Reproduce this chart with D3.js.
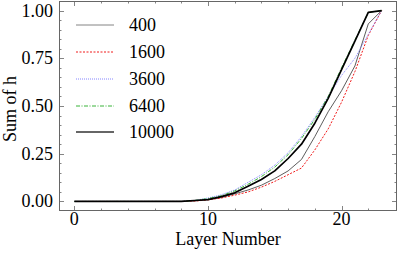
<!DOCTYPE html>
<html><head><meta charset="utf-8">
<script src="https://cdn.jsdelivr.net/npm/d3@7"></script>
<style>body{margin:0;background:#fff}svg{display:block}text{font-family:"Liberation Serif","Times New Roman",serif}</style>
</head><body><svg id="c" width="399" height="254"></svg>
<script>
const layers = d3.range(0, 24);
const seriesNames = ["400", "1600", "3600", "6400", "10000"];
const s400   = [0,0,0,0,0,0,0,0,0,0.003,0.01,0.02,0.04,0.06,0.085,0.12,0.16,0.22,0.34,0.47,0.58,0.71,0.93,1.0];
const s1600  = [0,0,0,0,0,0,0,0,0,0.002,0.008,0.018,0.033,0.05,0.075,0.105,0.14,0.175,0.27,0.38,0.52,0.68,0.87,1.0];
const s3600  = [0,0,0,0,0,0,0,0,0,0.005,0.018,0.035,0.06,0.1,0.14,0.19,0.255,0.34,0.44,0.55,0.66,0.75,0.875,1.0];
const s6400  = [0,0,0,0,0,0,0,0,0,0.005,0.015,0.03,0.055,0.09,0.13,0.18,0.245,0.33,0.43,0.55,0.70,0.845,0.99,1.0];
const s10000 = [0,0,0,0,0,0,0,0,0,0.005,0.01,0.025,0.045,0.08,0.115,0.16,0.225,0.30,0.41,0.54,0.69,0.84,0.99,1.0];
const xTicks = [0, 10, 20];
const yTicks = [0, 0.25, 0.5, 0.75, 1.0];
const xMinor = [2,4,6,8,12,14,16,18,22];
const yMinor = d3.range(0, 21).map(i => i*0.05).filter(v => Math.abs(v*4 - Math.round(v*4)) > 1e-6);

const allSeries = [s400, s1600, s3600, s6400, s10000];
const styles = [
  {c:"#333", w:0.8, d:null},
  {c:"#e00", w:0.9, d:"2,1.5"},
  {c:"#77f", w:0.9, d:"1,1"},
  {c:"#2a2", w:0.9, d:"4,1.5,1,1.5"},
  {c:"#000", w:1.7, d:null}
];

const L=59, R=397, T=1, B=211;
const FS = 18;
const x = d3.scaleLinear().domain([-1.15, 24.15]).range([L, R]);
const y = d3.scaleLinear().domain([-0.05, 1.05]).range([B, T]);
const svg = d3.select("#c");
const g = svg.append("g");

const line = d3.line().x((d,i)=>x(layers[i])).y(d=>y(d));
allSeries.forEach((s,i)=>{
  g.append("path").attr("d", line(s)).attr("fill","none")
   .attr("stroke", styles[i].c).attr("stroke-width", styles[i].w)
   .attr("stroke-dasharray", styles[i].d).attr("stroke-linejoin","round");
});

// frame
g.append("rect").attr("x",L+0.5).attr("y",T+0.5).attr("width",R-L-1).attr("height",B-T-1)
 .attr("fill","none").attr("stroke","#666").attr("stroke-width",1);

// ticks inward on all sides
const tk = (x1,y1,x2,y2)=>g.append("line").attr("x1",x1).attr("y1",y1).attr("x2",x2).attr("y2",y2).attr("stroke","#666").attr("stroke-width",0.8);
xTicks.forEach(v=>{ const px=Math.round(x(v))+0.5; tk(px,B,px,B-5); tk(px,T,px,T+5); });
xMinor.forEach(v=>{ const px=Math.round(x(v))+0.5; tk(px,B,px,B-2.5); tk(px,T,px,T+2.5); });
yTicks.forEach(v=>{ const py=Math.round(y(v))+0.5; tk(L,py,L+5,py); tk(R,py,R-5,py); });
yMinor.forEach(v=>{ const py=Math.round(y(v))+0.5; tk(L,py,L+2.5,py); tk(R,py,R-2.5,py); });

// tick labels
xTicks.forEach(v=>g.append("text").attr("x",x(v)).attr("y",225).attr("text-anchor","middle").attr("font-size",FS).attr("fill","#000").text(v));
yTicks.forEach(v=>g.append("text").attr("x",53).attr("y",y(v)+6).attr("text-anchor","end").attr("font-size",FS).attr("fill","#000").text(d3.format(".2f")(v)));

// axis labels
g.append("text").attr("x",(L+R)/2).attr("y",245).attr("text-anchor","middle").attr("font-size",FS).text("Layer Number");
g.append("text").attr("transform",`translate(16,109) rotate(-90)`).attr("text-anchor","middle").attr("font-size",FS).text("Sum of h");

// legend
const legY = [25, 52, 79, 106, 132];
seriesNames.forEach((n,i)=>{
  const st = styles[i];
  g.append("line").attr("x1",76).attr("x2",114).attr("y1",legY[i]).attr("y2",legY[i])
   .attr("stroke", i===0?"#666":(i===4?"#333":st.c)).attr("stroke-width", st.w).attr("stroke-dasharray", st.d);
  g.append("text").attr("x",129).attr("y",legY[i]+6).attr("font-size",FS).text(n);
});
</script></body></html>
